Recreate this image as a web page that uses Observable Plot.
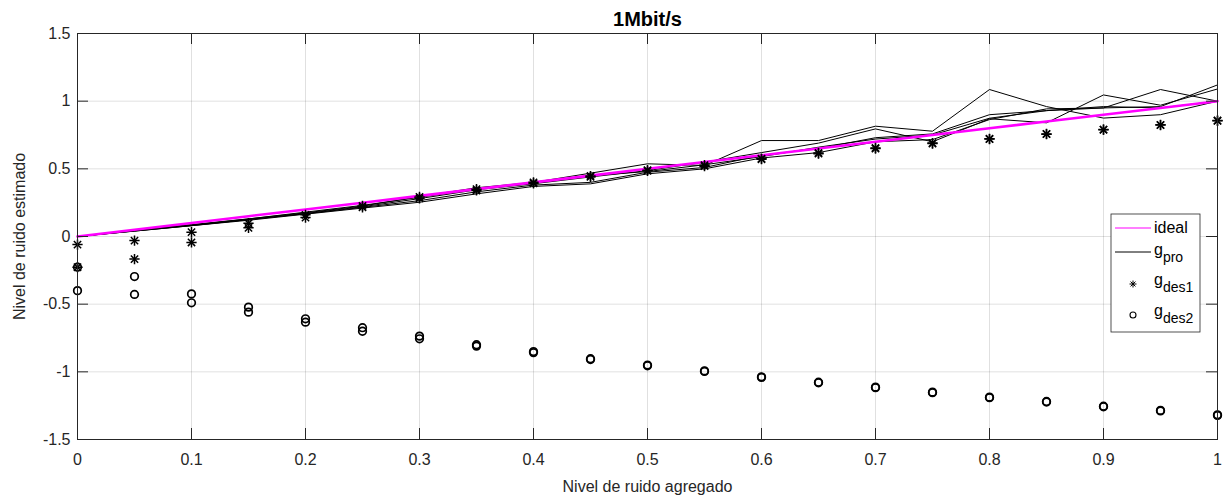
<!DOCTYPE html>
<html><head><meta charset="utf-8">
<script src="https://cdn.jsdelivr.net/npm/d3@7"></script>
<script src="https://cdn.jsdelivr.net/npm/@observablehq/plot@0.6"></script>
<style>
html,body{margin:0;padding:0;background:#fff;}
#chart{position:relative;width:1223px;height:501px;}
</style></head><body><div id="chart"></div>
<script>
// ---- data ----
const xs = [0, 0.05, 0.1, 0.15, 0.2, 0.25, 0.3, 0.35, 0.4, 0.45, 0.5, 0.55, 0.6, 0.65, 0.7, 0.75, 0.8, 0.85, 0.9, 0.95, 1];
const ideal = [0, 0.05, 0.1, 0.15, 0.2, 0.25, 0.3, 0.35, 0.4, 0.45, 0.5, 0.55, 0.6, 0.65, 0.7, 0.75, 0.8, 0.85, 0.9, 0.95, 1];
const gPro1 = [0, 0.045, 0.085, 0.13, 0.175, 0.225, 0.295, 0.36, 0.40, 0.468, 0.537, 0.525, 0.709, 0.709, 0.815, 0.778, 1.086, 0.96, 0.875, 0.90, 1.0];
const gPro2 = [0, 0.040, 0.080, 0.125, 0.170, 0.220, 0.280, 0.345, 0.39, 0.440, 0.487, 0.550, 0.620, 0.690, 0.795, 0.700, 0.870, 0.84, 1.046, 0.97, 1.09];
const gPro3 = [0, 0.042, 0.082, 0.125, 0.168, 0.215, 0.265, 0.330, 0.38, 0.400, 0.475, 0.510, 0.600, 0.650, 0.730, 0.758, 0.900, 0.93, 0.95, 1.086, 1.0];
const gPro4 = [0, 0.040, 0.080, 0.120, 0.165, 0.210, 0.253, 0.315, 0.37, 0.389, 0.463, 0.500, 0.580, 0.620, 0.700, 0.716, 0.864, 0.943, 0.95, 0.96, 1.12];
const gPro5 = [0, 0.045, 0.088, 0.130, 0.180, 0.230, 0.290, 0.350, 0.395, 0.450, 0.480, 0.530, 0.590, 0.660, 0.720, 0.750, 0.874, 0.93, 0.96, 0.95, 1.0];
const gDes1a = [-0.06, -0.03, 0.032, 0.098, 0.16, 0.226, 0.292, 0.35, 0.40, 0.447, 0.49, 0.527, 0.576, 0.617, 0.654, 0.69, 0.722, 0.758, 0.79, 0.825, 0.857];
const gDes1b = [-0.227, -0.167, -0.044, 0.064, 0.14, 0.216, 0.282, 0.34, 0.392, 0.44, 0.485, 0.52, 0.571, 0.612, 0.65, 0.687, 0.72, 0.756, 0.789, 0.823, 0.855];
const gDes2a = [-0.227, -0.296, -0.424, -0.522, -0.608, -0.674, -0.736, -0.80, -0.85, -0.903, -0.95, -0.993, -1.037, -1.077, -1.113, -1.15, -1.187, -1.219, -1.254, -1.285, -1.318];
const gDes2b = [-0.40, -0.428, -0.49, -0.559, -0.633, -0.70, -0.756, -0.81, -0.858, -0.909, -0.955, -0.997, -1.041, -1.081, -1.117, -1.154, -1.191, -1.223, -1.258, -1.289, -1.322];
const xTicks = [0, 0.1, 0.2, 0.3, 0.4, 0.5, 0.6, 0.7, 0.8, 0.9, 1];
const xTickLabels = ["0", "0.1", "0.2", "0.3", "0.4", "0.5", "0.6", "0.7", "0.8", "0.9", "1"];
const yTicks = [-1.5, -1, -0.5, 0, 0.5, 1, 1.5];
const yTickLabels = ["-1.5", "-1", "-0.5", "0", "0.5", "1", "1.5"];
const titleText = "1Mbit/s";
const xLabelText = "Nivel de ruido agregado";
const yLabelText = "Nivel de ruido estimado";
const legendNames = [["ideal", ""], ["g", "pro"], ["g", "des1"], ["g", "des2"]];

// ---- tables ----
const proRows = [gPro1, gPro2, gPro3, gPro4, gPro5].flatMap((s, k) => s.map((v, i) => ({run: k, x: xs[i], y: v})));
const idealRows = ideal.map((v, i) => ({x: xs[i], y: v}));
const des1Rows = [gDes1a, gDes1b].flatMap((s, k) => s.map((v, i) => ({run: k, x: xs[i], y: v})));
const des2Rows = [gDes2a, gDes2b].flatMap((s, k) => s.map((v, i) => ({run: k, x: xs[i], y: v})));

// ---- layout ----
const W = 1223, H = 501, mL = 77, mR = 6, mT = 33, mB = 62;
const plotW = W - mL - mR, plotH = H - mT - mB;
const tk = 11;
const ink = "#262626";
const font = "'Liberation Sans', Arial, Helvetica, sans-serif";

const chart = Plot.plot({
  width: W, height: H,
  marginLeft: mL, marginRight: mR, marginTop: mT, marginBottom: mB,
  style: {fontFamily: font, fontSize: "16px", color: ink, background: "#fff", overflow: "visible"},
  x: {domain: [0, 1]},
  y: {domain: [-1.5, 1.5]},
  marks: [
    Plot.gridX(xTicks, {stroke: "#000", strokeOpacity: 0.12}),
    Plot.gridY(yTicks, {stroke: "#000", strokeOpacity: 0.12}),
    Plot.line(proRows, {x: "x", y: "y", z: "run", stroke: "#000", strokeWidth: 1}),
    Plot.line(idealRows, {x: "x", y: "y", stroke: "#ff00ff", strokeWidth: 2.6}),
    Plot.dot(des1Rows, {x: "x", y: "y", symbol: "plus", r: 3.4, stroke: "#000", strokeWidth: 1.5}),
    Plot.dot(des1Rows, {x: "x", y: "y", symbol: "times", r: 3.4, stroke: "#000", strokeWidth: 1.5}),
    Plot.dot(des2Rows, {x: "x", y: "y", r: 3.8, stroke: "#000", strokeWidth: 1.7, fill: "none"}),
    Plot.frame({stroke: ink, strokeWidth: 1}),
    Plot.tickX(xTicks, {x: d => d, stroke: ink, insetTop: plotH - tk}),
    Plot.tickX(xTicks, {x: d => d, stroke: ink, insetBottom: plotH - tk}),
    Plot.tickY(yTicks, {y: d => d, stroke: ink, insetRight: plotW - tk}),
    Plot.tickY(yTicks, {y: d => d, stroke: ink, insetLeft: plotW - tk}),
    Plot.axisX(xTicks, {tickSize: 0, tickPadding: 14, fontSize: 16,
      tickFormat: d => xTickLabels[xTicks.indexOf(d)],
      label: xLabelText, labelAnchor: "center", labelOffset: 52, labelArrow: "none"}),
    Plot.axisY(yTicks, {tickSize: 0, tickPadding: 7, fontSize: 16,
      tickFormat: d => yTickLabels[yTicks.indexOf(d)],
      label: yLabelText, labelAnchor: "center", labelOffset: 64, labelArrow: "none"}),
    Plot.text([titleText], {frameAnchor: "top", dy: -22, fontWeight: "bold", fontSize: 20, fill: "#000"})
  ]
});
document.getElementById("chart").appendChild(chart);

// ---- legend ----
const svg = d3.select(chart);
const lg = svg.append("g").attr("font-family", font).attr("font-size", 16).attr("fill", "#000").attr("text-anchor", "start");
const bx = 1111, by = 214, bw = 89, bh = 118;
lg.append("rect").attr("x", bx).attr("y", by).attr("width", bw).attr("height", bh)
  .attr("fill", "#fff").attr("stroke", ink).attr("stroke-width", 0.8);
const rowY = [228, 254, 284, 315];
const sx0 = bx + 4, sx1 = bx + 40, tx = bx + 43;
legendNames.forEach(([main, sub], i) => {
  const cy = rowY[i];
  if (i === 0) lg.append("line").attr("x1", sx0).attr("x2", sx1).attr("y1", cy).attr("y2", cy).attr("stroke", "#ff00ff").attr("stroke-width", 1.2);
  if (i === 1) lg.append("line").attr("x1", sx0).attr("x2", sx1).attr("y1", cy - 2).attr("y2", cy - 2).attr("stroke", "#000").attr("stroke-width", 1);
  if (i === 2) {
    const c = (sx0 + sx1) / 2, r = 3.5;
    lg.append("path").attr("d", `M${c - r},${cy}H${c + r}M${c},${cy - r}V${cy + r}M${c - r * 0.7},${cy - r * 0.7}L${c + r * 0.7},${cy + r * 0.7}M${c - r * 0.7},${cy + r * 0.7}L${c + r * 0.7},${cy - r * 0.7}`)
      .attr("stroke", "#000").attr("stroke-width", 1).attr("fill", "none");
  }
  if (i === 3) lg.append("circle").attr("cx", (sx0 + sx1) / 2).attr("cy", cy).attr("r", 3).attr("stroke", "#000").attr("stroke-width", 1.1).attr("fill", "none");
  const t = lg.append("text").attr("x", tx).attr("y", sub ? cy + 1 : cy + 5).attr("text-anchor", "start");
  t.append("tspan").text(main);
  if (sub) t.append("tspan").attr("font-size", 14).attr("dy", 7).text(sub);
});
</script></body></html>
